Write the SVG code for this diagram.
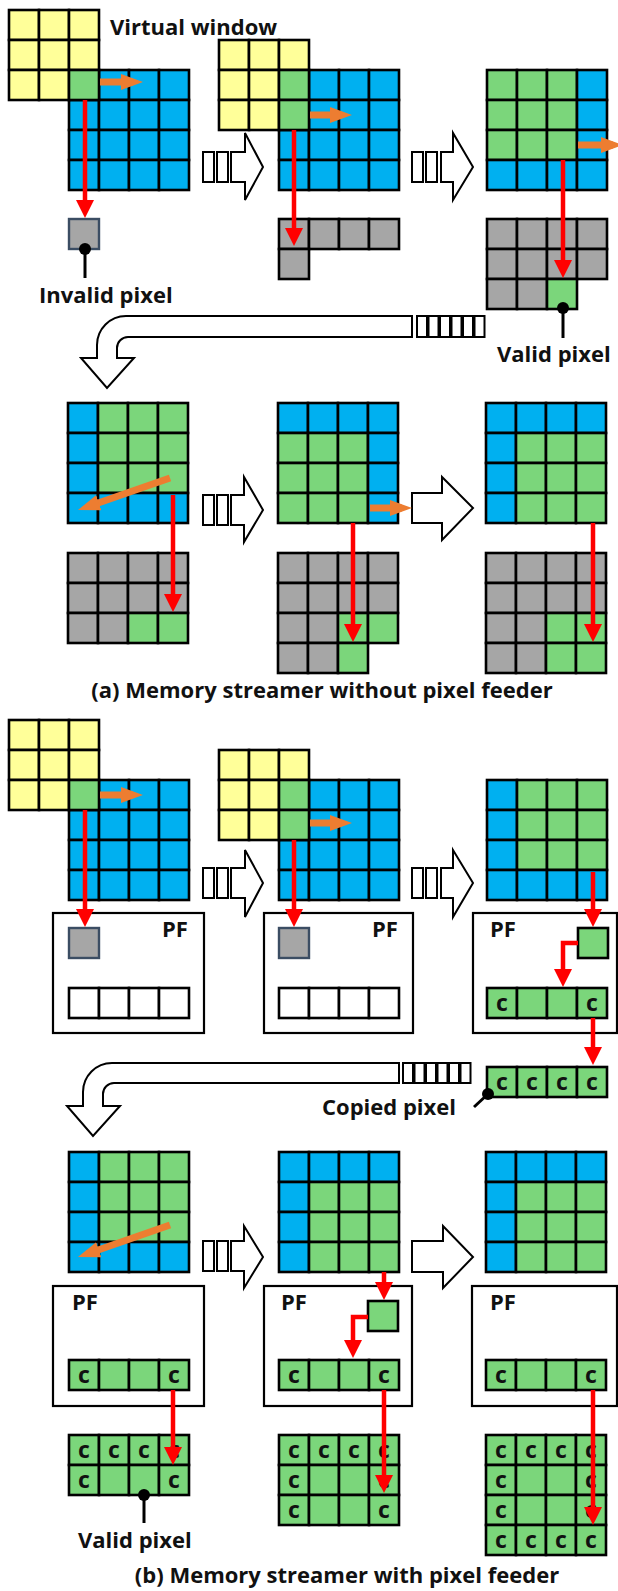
<svg xmlns="http://www.w3.org/2000/svg" width="618" height="1591" viewBox="0 0 618 1591">
<style>
  rect.Y{fill:#FFFF99;stroke:#000;stroke-width:2.6}
  rect.B{fill:#00B0F0;stroke:#000;stroke-width:2.6}
  rect.G{fill:#7BD67B;stroke:#000;stroke-width:2.6}
  rect.K{fill:#A6A6A6;stroke:#000;stroke-width:2.6}
  rect.W{fill:#fff;stroke:#000;stroke-width:2.6}
  rect.P{fill:#A6A6A6;stroke:#3B4D63;stroke-width:2.4}
  rect.box{fill:#fff;stroke:#000;stroke-width:2.2}
  text{font-family:"Open Sans","Liberation Sans",sans-serif;font-weight:700;fill:#111}
  .lbl{font-size:22px}
  .cap{font-size:22px;text-anchor:middle}
  .c{font-size:23px;text-anchor:middle}
  .red{stroke:#FF0000;stroke-width:4.5;fill:none;marker-end:url(#redHead)}
  .org{stroke:#ED7D31;stroke-width:7;fill:none;marker-end:url(#orgHead)}
  .blk{fill:#fff;stroke:#000;stroke-width:2;stroke-linejoin:miter}
  .lead{stroke:#000;stroke-width:3}
</style>
<defs>
  <marker id="redHead" markerUnits="userSpaceOnUse" markerWidth="18" markerHeight="18" refX="10" refY="9" orient="auto">
    <path d="M0,0 L18,9 L0,18 Z" fill="#FF0000"/>
  </marker>
  <marker id="orgHead" markerUnits="userSpaceOnUse" markerWidth="22" markerHeight="16" refX="12" refY="8" orient="auto">
    <path d="M0,0 L22,8 L0,16 Z" fill="#ED7D31"/>
  </marker>
</defs>
<rect width="618" height="1591" fill="#fff"/>

<!-- ===== (a) without pixel feeder ===== -->
<g id="a1">
  <rect class="B" x="69" y="70" width="30" height="30"/><rect class="B" x="99" y="70" width="30" height="30"/><rect class="B" x="129" y="70" width="30" height="30"/><rect class="B" x="159" y="70" width="30" height="30"/>
  <rect class="B" x="69" y="100" width="30" height="30"/><rect class="B" x="99" y="100" width="30" height="30"/><rect class="B" x="129" y="100" width="30" height="30"/><rect class="B" x="159" y="100" width="30" height="30"/>
  <rect class="B" x="69" y="130" width="30" height="30"/><rect class="B" x="99" y="130" width="30" height="30"/><rect class="B" x="129" y="130" width="30" height="30"/><rect class="B" x="159" y="130" width="30" height="30"/>
  <rect class="B" x="69" y="160" width="30" height="30"/><rect class="B" x="99" y="160" width="30" height="30"/><rect class="B" x="129" y="160" width="30" height="30"/><rect class="B" x="159" y="160" width="30" height="30"/>
  <rect class="Y" x="9" y="10" width="30" height="30"/><rect class="Y" x="39" y="10" width="30" height="30"/><rect class="Y" x="69" y="10" width="30" height="30"/>
  <rect class="Y" x="9" y="40" width="30" height="30"/><rect class="Y" x="39" y="40" width="30" height="30"/><rect class="Y" x="69" y="40" width="30" height="30"/>
  <rect class="Y" x="9" y="70" width="30" height="30"/><rect class="Y" x="39" y="70" width="30" height="30"/><rect class="G" x="69" y="70" width="30" height="30"/>
  <rect class="P" x="69" y="219" width="30" height="30"/>
  <text class="lbl" x="110" y="35">Virtual window</text>
  <text class="lbl" x="39" y="303">Invalid pixel</text>
</g>

<g id="a2">
  <rect class="B" x="279" y="70" width="30" height="30"/><rect class="B" x="309" y="70" width="30" height="30"/><rect class="B" x="339" y="70" width="30" height="30"/><rect class="B" x="369" y="70" width="30" height="30"/>
  <rect class="B" x="279" y="100" width="30" height="30"/><rect class="B" x="309" y="100" width="30" height="30"/><rect class="B" x="339" y="100" width="30" height="30"/><rect class="B" x="369" y="100" width="30" height="30"/>
  <rect class="B" x="279" y="130" width="30" height="30"/><rect class="B" x="309" y="130" width="30" height="30"/><rect class="B" x="339" y="130" width="30" height="30"/><rect class="B" x="369" y="130" width="30" height="30"/>
  <rect class="B" x="279" y="160" width="30" height="30"/><rect class="B" x="309" y="160" width="30" height="30"/><rect class="B" x="339" y="160" width="30" height="30"/><rect class="B" x="369" y="160" width="30" height="30"/>
  <rect class="Y" x="219" y="40" width="30" height="30"/><rect class="Y" x="249" y="40" width="30" height="30"/><rect class="Y" x="279" y="40" width="30" height="30"/>
  <rect class="Y" x="219" y="70" width="30" height="30"/><rect class="Y" x="249" y="70" width="30" height="30"/><rect class="G" x="279" y="70" width="30" height="30"/>
  <rect class="Y" x="219" y="100" width="30" height="30"/><rect class="Y" x="249" y="100" width="30" height="30"/><rect class="G" x="279" y="100" width="30" height="30"/>
  <rect class="K" x="279" y="219" width="30" height="30"/><rect class="K" x="309" y="219" width="30" height="30"/><rect class="K" x="339" y="219" width="30" height="30"/><rect class="K" x="369" y="219" width="30" height="30"/>
  <rect class="K" x="279" y="249" width="30" height="30"/>
</g>

<g id="a3">
  <rect class="G" x="487" y="70" width="30" height="30"/><rect class="G" x="517" y="70" width="30" height="30"/><rect class="G" x="547" y="70" width="30" height="30"/><rect class="B" x="577" y="70" width="30" height="30"/>
  <rect class="G" x="487" y="100" width="30" height="30"/><rect class="G" x="517" y="100" width="30" height="30"/><rect class="G" x="547" y="100" width="30" height="30"/><rect class="B" x="577" y="100" width="30" height="30"/>
  <rect class="G" x="487" y="130" width="30" height="30"/><rect class="G" x="517" y="130" width="30" height="30"/><rect class="G" x="547" y="130" width="30" height="30"/><rect class="B" x="577" y="130" width="30" height="30"/>
  <rect class="B" x="487" y="160" width="30" height="30"/><rect class="B" x="517" y="160" width="30" height="30"/><rect class="B" x="547" y="160" width="30" height="30"/><rect class="B" x="577" y="160" width="30" height="30"/>
  <rect class="K" x="487" y="219" width="30" height="30"/><rect class="K" x="517" y="219" width="30" height="30"/><rect class="K" x="547" y="219" width="30" height="30"/><rect class="K" x="577" y="219" width="30" height="30"/>
  <rect class="K" x="487" y="249" width="30" height="30"/><rect class="K" x="517" y="249" width="30" height="30"/><rect class="K" x="547" y="249" width="30" height="30"/><rect class="K" x="577" y="249" width="30" height="30"/>
  <rect class="K" x="487" y="279" width="30" height="30"/><rect class="K" x="517" y="279" width="30" height="30"/><rect class="G" x="547" y="279" width="30" height="30"/>
  <text class="lbl" x="497" y="362">Valid pixel</text>
</g>

<g id="a4">
  <rect class="B" x="68" y="403" width="30" height="30"/><rect class="G" x="98" y="403" width="30" height="30"/><rect class="G" x="128" y="403" width="30" height="30"/><rect class="G" x="158" y="403" width="30" height="30"/>
  <rect class="B" x="68" y="433" width="30" height="30"/><rect class="G" x="98" y="433" width="30" height="30"/><rect class="G" x="128" y="433" width="30" height="30"/><rect class="G" x="158" y="433" width="30" height="30"/>
  <rect class="B" x="68" y="463" width="30" height="30"/><rect class="G" x="98" y="463" width="30" height="30"/><rect class="G" x="128" y="463" width="30" height="30"/><rect class="G" x="158" y="463" width="30" height="30"/>
  <rect class="B" x="68" y="493" width="30" height="30"/><rect class="B" x="98" y="493" width="30" height="30"/><rect class="B" x="128" y="493" width="30" height="30"/><rect class="B" x="158" y="493" width="30" height="30"/>
  <rect class="K" x="68" y="553" width="30" height="30"/><rect class="K" x="98" y="553" width="30" height="30"/><rect class="K" x="128" y="553" width="30" height="30"/><rect class="K" x="158" y="553" width="30" height="30"/>
  <rect class="K" x="68" y="583" width="30" height="30"/><rect class="K" x="98" y="583" width="30" height="30"/><rect class="K" x="128" y="583" width="30" height="30"/><rect class="K" x="158" y="583" width="30" height="30"/>
  <rect class="K" x="68" y="613" width="30" height="30"/><rect class="K" x="98" y="613" width="30" height="30"/><rect class="G" x="128" y="613" width="30" height="30"/><rect class="G" x="158" y="613" width="30" height="30"/>
</g>

<g id="a5">
  <rect class="B" x="278" y="403" width="30" height="30"/><rect class="B" x="308" y="403" width="30" height="30"/><rect class="B" x="338" y="403" width="30" height="30"/><rect class="B" x="368" y="403" width="30" height="30"/>
  <rect class="G" x="278" y="433" width="30" height="30"/><rect class="G" x="308" y="433" width="30" height="30"/><rect class="G" x="338" y="433" width="30" height="30"/><rect class="B" x="368" y="433" width="30" height="30"/>
  <rect class="G" x="278" y="463" width="30" height="30"/><rect class="G" x="308" y="463" width="30" height="30"/><rect class="G" x="338" y="463" width="30" height="30"/><rect class="B" x="368" y="463" width="30" height="30"/>
  <rect class="G" x="278" y="493" width="30" height="30"/><rect class="G" x="308" y="493" width="30" height="30"/><rect class="G" x="338" y="493" width="30" height="30"/><rect class="B" x="368" y="493" width="30" height="30"/>
  <rect class="K" x="278" y="553" width="30" height="30"/><rect class="K" x="308" y="553" width="30" height="30"/><rect class="K" x="338" y="553" width="30" height="30"/><rect class="K" x="368" y="553" width="30" height="30"/>
  <rect class="K" x="278" y="583" width="30" height="30"/><rect class="K" x="308" y="583" width="30" height="30"/><rect class="K" x="338" y="583" width="30" height="30"/><rect class="K" x="368" y="583" width="30" height="30"/>
  <rect class="K" x="278" y="613" width="30" height="30"/><rect class="K" x="308" y="613" width="30" height="30"/><rect class="G" x="338" y="613" width="30" height="30"/><rect class="G" x="368" y="613" width="30" height="30"/>
  <rect class="K" x="278" y="643" width="30" height="30"/><rect class="K" x="308" y="643" width="30" height="30"/><rect class="G" x="338" y="643" width="30" height="30"/>
</g>

<g id="a6">
  <rect class="B" x="486" y="403" width="30" height="30"/><rect class="B" x="516" y="403" width="30" height="30"/><rect class="B" x="546" y="403" width="30" height="30"/><rect class="B" x="576" y="403" width="30" height="30"/>
  <rect class="B" x="486" y="433" width="30" height="30"/><rect class="G" x="516" y="433" width="30" height="30"/><rect class="G" x="546" y="433" width="30" height="30"/><rect class="G" x="576" y="433" width="30" height="30"/>
  <rect class="B" x="486" y="463" width="30" height="30"/><rect class="G" x="516" y="463" width="30" height="30"/><rect class="G" x="546" y="463" width="30" height="30"/><rect class="G" x="576" y="463" width="30" height="30"/>
  <rect class="B" x="486" y="493" width="30" height="30"/><rect class="G" x="516" y="493" width="30" height="30"/><rect class="G" x="546" y="493" width="30" height="30"/><rect class="G" x="576" y="493" width="30" height="30"/>
  <rect class="K" x="486" y="553" width="30" height="30"/><rect class="K" x="516" y="553" width="30" height="30"/><rect class="K" x="546" y="553" width="30" height="30"/><rect class="K" x="576" y="553" width="30" height="30"/>
  <rect class="K" x="486" y="583" width="30" height="30"/><rect class="K" x="516" y="583" width="30" height="30"/><rect class="K" x="546" y="583" width="30" height="30"/><rect class="K" x="576" y="583" width="30" height="30"/>
  <rect class="K" x="486" y="613" width="30" height="30"/><rect class="K" x="516" y="613" width="30" height="30"/><rect class="G" x="546" y="613" width="30" height="30"/><rect class="G" x="576" y="613" width="30" height="30"/>
  <rect class="K" x="486" y="643" width="30" height="30"/><rect class="K" x="516" y="643" width="30" height="30"/><rect class="G" x="546" y="643" width="30" height="30"/><rect class="G" x="576" y="643" width="30" height="30"/>
</g>

<text id="capA" class="cap" x="322" y="698">(a) Memory streamer without pixel feeder</text>

<!-- ===== (b) with pixel feeder ===== -->
<g id="b1">
  <rect class="B" x="69" y="780" width="30" height="30"/><rect class="B" x="99" y="780" width="30" height="30"/><rect class="B" x="129" y="780" width="30" height="30"/><rect class="B" x="159" y="780" width="30" height="30"/>
  <rect class="B" x="69" y="810" width="30" height="30"/><rect class="B" x="99" y="810" width="30" height="30"/><rect class="B" x="129" y="810" width="30" height="30"/><rect class="B" x="159" y="810" width="30" height="30"/>
  <rect class="B" x="69" y="840" width="30" height="30"/><rect class="B" x="99" y="840" width="30" height="30"/><rect class="B" x="129" y="840" width="30" height="30"/><rect class="B" x="159" y="840" width="30" height="30"/>
  <rect class="B" x="69" y="870" width="30" height="30"/><rect class="B" x="99" y="870" width="30" height="30"/><rect class="B" x="129" y="870" width="30" height="30"/><rect class="B" x="159" y="870" width="30" height="30"/>
  <rect class="Y" x="9" y="720" width="30" height="30"/><rect class="Y" x="39" y="720" width="30" height="30"/><rect class="Y" x="69" y="720" width="30" height="30"/>
  <rect class="Y" x="9" y="750" width="30" height="30"/><rect class="Y" x="39" y="750" width="30" height="30"/><rect class="Y" x="69" y="750" width="30" height="30"/>
  <rect class="Y" x="9" y="780" width="30" height="30"/><rect class="Y" x="39" y="780" width="30" height="30"/><rect class="G" x="69" y="780" width="30" height="30"/>
  <rect class="box" x="53" y="913" width="151" height="120"/>
  <text class="lbl" x="162" y="937">PF</text>
  <rect class="P" x="69" y="928" width="30" height="30"/>
  <rect class="W" x="69" y="988" width="30" height="30"/><rect class="W" x="99" y="988" width="30" height="30"/><rect class="W" x="129" y="988" width="30" height="30"/><rect class="W" x="159" y="988" width="30" height="30"/>
</g>

<g id="b2">
  <rect class="B" x="279" y="780" width="30" height="30"/><rect class="B" x="309" y="780" width="30" height="30"/><rect class="B" x="339" y="780" width="30" height="30"/><rect class="B" x="369" y="780" width="30" height="30"/>
  <rect class="B" x="279" y="810" width="30" height="30"/><rect class="B" x="309" y="810" width="30" height="30"/><rect class="B" x="339" y="810" width="30" height="30"/><rect class="B" x="369" y="810" width="30" height="30"/>
  <rect class="B" x="279" y="840" width="30" height="30"/><rect class="B" x="309" y="840" width="30" height="30"/><rect class="B" x="339" y="840" width="30" height="30"/><rect class="B" x="369" y="840" width="30" height="30"/>
  <rect class="B" x="279" y="870" width="30" height="30"/><rect class="B" x="309" y="870" width="30" height="30"/><rect class="B" x="339" y="870" width="30" height="30"/><rect class="B" x="369" y="870" width="30" height="30"/>
  <rect class="Y" x="219" y="750" width="30" height="30"/><rect class="Y" x="249" y="750" width="30" height="30"/><rect class="Y" x="279" y="750" width="30" height="30"/>
  <rect class="Y" x="219" y="780" width="30" height="30"/><rect class="Y" x="249" y="780" width="30" height="30"/><rect class="G" x="279" y="780" width="30" height="30"/>
  <rect class="Y" x="219" y="810" width="30" height="30"/><rect class="Y" x="249" y="810" width="30" height="30"/><rect class="G" x="279" y="810" width="30" height="30"/>
  <rect class="box" x="264" y="913" width="149" height="120"/>
  <text class="lbl" x="372" y="937">PF</text>
  <rect class="P" x="279" y="928" width="30" height="30"/>
  <rect class="W" x="279" y="988" width="30" height="30"/><rect class="W" x="309" y="988" width="30" height="30"/><rect class="W" x="339" y="988" width="30" height="30"/><rect class="W" x="369" y="988" width="30" height="30"/>
</g>

<g id="b3">
  <rect class="B" x="487" y="780" width="30" height="30"/><rect class="G" x="517" y="780" width="30" height="30"/><rect class="G" x="547" y="780" width="30" height="30"/><rect class="G" x="577" y="780" width="30" height="30"/>
  <rect class="B" x="487" y="810" width="30" height="30"/><rect class="G" x="517" y="810" width="30" height="30"/><rect class="G" x="547" y="810" width="30" height="30"/><rect class="G" x="577" y="810" width="30" height="30"/>
  <rect class="B" x="487" y="840" width="30" height="30"/><rect class="G" x="517" y="840" width="30" height="30"/><rect class="G" x="547" y="840" width="30" height="30"/><rect class="G" x="577" y="840" width="30" height="30"/>
  <rect class="B" x="487" y="870" width="30" height="30"/><rect class="B" x="517" y="870" width="30" height="30"/><rect class="B" x="547" y="870" width="30" height="30"/><rect class="B" x="577" y="870" width="30" height="30"/>
  <rect class="box" x="473" y="913" width="144" height="120"/>
  <text class="lbl" x="490" y="937">PF</text>
  <rect class="G" x="578" y="928" width="30" height="30"/>
  <rect class="G" x="487" y="988" width="30" height="30"/><rect class="G" x="517" y="988" width="30" height="30"/><rect class="G" x="547" y="988" width="30" height="30"/><rect class="G" x="577" y="988" width="30" height="30"/>
  <text class="c" x="502" y="1011">c</text><text class="c" x="592" y="1011">c</text>
  <rect class="G" x="487" y="1067" width="30" height="30"/><rect class="G" x="517" y="1067" width="30" height="30"/><rect class="G" x="547" y="1067" width="30" height="30"/><rect class="G" x="577" y="1067" width="30" height="30"/>
  <text class="c" x="502" y="1090">c</text><text class="c" x="532" y="1090">c</text><text class="c" x="562" y="1090">c</text><text class="c" x="592" y="1090">c</text>
  <text class="lbl" x="322" y="1115">Copied pixel</text>
</g>

<g id="b4">
  <rect class="B" x="69" y="1152" width="30" height="30"/><rect class="G" x="99" y="1152" width="30" height="30"/><rect class="G" x="129" y="1152" width="30" height="30"/><rect class="G" x="159" y="1152" width="30" height="30"/>
  <rect class="B" x="69" y="1182" width="30" height="30"/><rect class="G" x="99" y="1182" width="30" height="30"/><rect class="G" x="129" y="1182" width="30" height="30"/><rect class="G" x="159" y="1182" width="30" height="30"/>
  <rect class="B" x="69" y="1212" width="30" height="30"/><rect class="G" x="99" y="1212" width="30" height="30"/><rect class="G" x="129" y="1212" width="30" height="30"/><rect class="G" x="159" y="1212" width="30" height="30"/>
  <rect class="B" x="69" y="1242" width="30" height="30"/><rect class="B" x="99" y="1242" width="30" height="30"/><rect class="B" x="129" y="1242" width="30" height="30"/><rect class="B" x="159" y="1242" width="30" height="30"/>
  <rect class="box" x="53" y="1286" width="151" height="120"/>
  <text class="lbl" x="72" y="1310">PF</text>
  <rect class="G" x="69" y="1360" width="30" height="30"/><rect class="G" x="99" y="1360" width="30" height="30"/><rect class="G" x="129" y="1360" width="30" height="30"/><rect class="G" x="159" y="1360" width="30" height="30"/>
  <text class="c" x="84" y="1383">c</text><text class="c" x="174" y="1383">c</text>
  <rect class="G" x="69" y="1435" width="30" height="30"/><rect class="G" x="99" y="1435" width="30" height="30"/><rect class="G" x="129" y="1435" width="30" height="30"/><rect class="G" x="159" y="1435" width="30" height="30"/>
  <rect class="G" x="69" y="1465" width="30" height="30"/><rect class="G" x="99" y="1465" width="30" height="30"/><rect class="G" x="129" y="1465" width="30" height="30"/><rect class="G" x="159" y="1465" width="30" height="30"/>
  <text class="c" x="84" y="1458">c</text><text class="c" x="114" y="1458">c</text><text class="c" x="144" y="1458">c</text><text class="c" x="174" y="1458">c</text>
  <text class="c" x="84" y="1488">c</text><text class="c" x="174" y="1488">c</text>
  <text class="lbl" x="78" y="1548">Valid pixel</text>
</g>

<g id="b5">
  <rect class="B" x="279" y="1152" width="30" height="30"/><rect class="B" x="309" y="1152" width="30" height="30"/><rect class="B" x="339" y="1152" width="30" height="30"/><rect class="B" x="369" y="1152" width="30" height="30"/>
  <rect class="B" x="279" y="1182" width="30" height="30"/><rect class="G" x="309" y="1182" width="30" height="30"/><rect class="G" x="339" y="1182" width="30" height="30"/><rect class="G" x="369" y="1182" width="30" height="30"/>
  <rect class="B" x="279" y="1212" width="30" height="30"/><rect class="G" x="309" y="1212" width="30" height="30"/><rect class="G" x="339" y="1212" width="30" height="30"/><rect class="G" x="369" y="1212" width="30" height="30"/>
  <rect class="B" x="279" y="1242" width="30" height="30"/><rect class="G" x="309" y="1242" width="30" height="30"/><rect class="G" x="339" y="1242" width="30" height="30"/><rect class="G" x="369" y="1242" width="30" height="30"/>
  <rect class="box" x="264" y="1286" width="148" height="120"/>
  <text class="lbl" x="281" y="1310">PF</text>
  <rect class="G" x="368" y="1301" width="30" height="30"/>
  <rect class="G" x="279" y="1360" width="30" height="30"/><rect class="G" x="309" y="1360" width="30" height="30"/><rect class="G" x="339" y="1360" width="30" height="30"/><rect class="G" x="369" y="1360" width="30" height="30"/>
  <text class="c" x="294" y="1383">c</text><text class="c" x="384" y="1383">c</text>
  <rect class="G" x="279" y="1435" width="30" height="30"/><rect class="G" x="309" y="1435" width="30" height="30"/><rect class="G" x="339" y="1435" width="30" height="30"/><rect class="G" x="369" y="1435" width="30" height="30"/>
  <rect class="G" x="279" y="1465" width="30" height="30"/><rect class="G" x="309" y="1465" width="30" height="30"/><rect class="G" x="339" y="1465" width="30" height="30"/><rect class="G" x="369" y="1465" width="30" height="30"/>
  <rect class="G" x="279" y="1495" width="30" height="30"/><rect class="G" x="309" y="1495" width="30" height="30"/><rect class="G" x="339" y="1495" width="30" height="30"/><rect class="G" x="369" y="1495" width="30" height="30"/>
  <text class="c" x="294" y="1458">c</text><text class="c" x="324" y="1458">c</text><text class="c" x="354" y="1458">c</text><text class="c" x="384" y="1458">c</text>
  <text class="c" x="294" y="1488">c</text><text class="c" x="384" y="1488">c</text>
  <text class="c" x="294" y="1518">c</text><text class="c" x="384" y="1518">c</text>
</g>

<g id="b6">
  <rect class="B" x="486" y="1152" width="30" height="30"/><rect class="B" x="516" y="1152" width="30" height="30"/><rect class="B" x="546" y="1152" width="30" height="30"/><rect class="B" x="576" y="1152" width="30" height="30"/>
  <rect class="B" x="486" y="1182" width="30" height="30"/><rect class="G" x="516" y="1182" width="30" height="30"/><rect class="G" x="546" y="1182" width="30" height="30"/><rect class="G" x="576" y="1182" width="30" height="30"/>
  <rect class="B" x="486" y="1212" width="30" height="30"/><rect class="G" x="516" y="1212" width="30" height="30"/><rect class="G" x="546" y="1212" width="30" height="30"/><rect class="G" x="576" y="1212" width="30" height="30"/>
  <rect class="B" x="486" y="1242" width="30" height="30"/><rect class="G" x="516" y="1242" width="30" height="30"/><rect class="G" x="546" y="1242" width="30" height="30"/><rect class="G" x="576" y="1242" width="30" height="30"/>
  <rect class="box" x="472" y="1286" width="145" height="120"/>
  <text class="lbl" x="490" y="1310">PF</text>
  <rect class="G" x="486" y="1360" width="30" height="30"/><rect class="G" x="516" y="1360" width="30" height="30"/><rect class="G" x="546" y="1360" width="30" height="30"/><rect class="G" x="576" y="1360" width="30" height="30"/>
  <text class="c" x="501" y="1383">c</text><text class="c" x="591" y="1383">c</text>
  <rect class="G" x="486" y="1435" width="30" height="30"/><rect class="G" x="516" y="1435" width="30" height="30"/><rect class="G" x="546" y="1435" width="30" height="30"/><rect class="G" x="576" y="1435" width="30" height="30"/>
  <rect class="G" x="486" y="1465" width="30" height="30"/><rect class="G" x="516" y="1465" width="30" height="30"/><rect class="G" x="546" y="1465" width="30" height="30"/><rect class="G" x="576" y="1465" width="30" height="30"/>
  <rect class="G" x="486" y="1495" width="30" height="30"/><rect class="G" x="516" y="1495" width="30" height="30"/><rect class="G" x="546" y="1495" width="30" height="30"/><rect class="G" x="576" y="1495" width="30" height="30"/>
  <rect class="G" x="486" y="1525" width="30" height="30"/><rect class="G" x="516" y="1525" width="30" height="30"/><rect class="G" x="546" y="1525" width="30" height="30"/><rect class="G" x="576" y="1525" width="30" height="30"/>
  <text class="c" x="501" y="1458">c</text><text class="c" x="531" y="1458">c</text><text class="c" x="561" y="1458">c</text><text class="c" x="591" y="1458">c</text>
  <text class="c" x="501" y="1488">c</text><text class="c" x="591" y="1488">c</text>
  <text class="c" x="501" y="1518">c</text><text class="c" x="591" y="1518">c</text>
  <text class="c" x="501" y="1548">c</text><text class="c" x="531" y="1548">c</text><text class="c" x="561" y="1548">c</text><text class="c" x="591" y="1548">c</text>
</g>

<text id="capB" class="cap" x="347" y="1583">(b) Memory streamer with pixel feeder</text>

<!-- ===== connectors ===== -->
<g id="connectors">
  <!-- step arrows -->
  <rect class="blk" x="203" y="152" width="11" height="30"/><rect class="blk" x="217" y="152" width="11" height="30"/>
  <path class="blk" d="M231,152 H245 V133 L263,167 L245,200 V182 H231 Z"/>
  <rect class="blk" x="412" y="152" width="11" height="30"/><rect class="blk" x="426" y="152" width="11" height="30"/>
  <path class="blk" d="M441,152 H453 V133 L473,167 L453,200 V182 H441 Z"/>
  <rect class="blk" x="203" y="495" width="11" height="30"/><rect class="blk" x="217" y="495" width="11" height="30"/>
  <path class="blk" d="M231,495 H244 V477 L263,510 L244,542 V525 H231 Z"/>
  <path class="blk" d="M412,493 H442 V477 L473,508 L442,540 V523 H412 Z"/>
  <rect class="blk" x="203" y="868" width="11" height="30"/><rect class="blk" x="217" y="868" width="11" height="30"/>
  <path class="blk" d="M231,868 H245 V850 L263,883 L245,917 V898 H231 Z"/>
  <rect class="blk" x="412" y="868" width="11" height="30"/><rect class="blk" x="426" y="868" width="11" height="30"/>
  <path class="blk" d="M441,868 H453 V850 L473,883 L453,917 V898 H441 Z"/>
  <rect class="blk" x="203" y="1241" width="11" height="30"/><rect class="blk" x="217" y="1241" width="11" height="30"/>
  <path class="blk" d="M231,1241 H244 V1226 L263,1257 L244,1288 V1271 H231 Z"/>
  <path class="blk" d="M412,1241 H443 V1226 L473,1257 L443,1288 V1272 H412 Z"/>

  <!-- wrap-around arrows -->
  <path class="blk" d="M412,316 H126 A29,29 0 0 0 97,345 V358 H81 L107,388 L134,358 H117 V348 A11,11 0 0 1 128,337 H412 Z"/>
  <rect class="blk" x="417" y="316" width="10" height="21"/><rect class="blk" x="428.5" y="316" width="10" height="21"/><rect class="blk" x="440" y="316" width="10" height="21"/>
  <rect class="blk" x="451.5" y="316" width="10" height="21"/><rect class="blk" x="463" y="316" width="10" height="21"/><rect class="blk" x="474.5" y="316" width="10" height="21"/>
  <path class="blk" d="M399,1063 H112 A29,29 0 0 0 83,1092 V1106 H67 L93,1136 L120,1106 H103 V1094 A11,11 0 0 1 114,1083 H399 Z"/>
  <rect class="blk" x="403" y="1063" width="10" height="20"/><rect class="blk" x="414.5" y="1063" width="10" height="20"/><rect class="blk" x="426" y="1063" width="10" height="20"/>
  <rect class="blk" x="437.5" y="1063" width="10" height="20"/><rect class="blk" x="449" y="1063" width="10" height="20"/><rect class="blk" x="460.5" y="1063" width="10" height="20"/>

  <!-- window shifts -->
  <line class="org" x1="100" y1="82" x2="133" y2="82"/>
  <line class="org" x1="310" y1="115" x2="342" y2="115"/>
  <line class="org" x1="578" y1="145" x2="613" y2="145"/>
  <line class="org" x1="170" y1="478" x2="87.4" y2="506.7"/>
  <line class="org" x1="370" y1="508" x2="402" y2="508"/>
  <line class="org" x1="100" y1="795" x2="133" y2="795"/>
  <line class="org" x1="310" y1="823" x2="342" y2="823"/>
  <line class="org" x1="170" y1="1225" x2="87.4" y2="1253.7"/>

  <!-- pixel output paths -->
  <line class="red" x1="85" y1="100" x2="85" y2="210"/>
  <line class="red" x1="294" y1="130" x2="294" y2="238"/>
  <line class="red" x1="563" y1="160" x2="563" y2="270"/>
  <line class="red" x1="173" y1="495" x2="173" y2="604"/>
  <line class="red" x1="353" y1="523" x2="353" y2="634"/>
  <line class="red" x1="593" y1="523" x2="593" y2="634"/>
  <line class="red" x1="85" y1="810" x2="85" y2="919"/>
  <line class="red" x1="294" y1="840" x2="294" y2="919"/>
  <line class="red" x1="593" y1="872" x2="593" y2="919"/>
  <path class="red" d="M578,943 H563 V979"/>
  <line class="red" x1="593" y1="1018" x2="593" y2="1057"/>
  <line class="red" x1="173" y1="1390" x2="173" y2="1457"/>
  <line class="red" x1="384" y1="1272" x2="384" y2="1292"/>
  <path class="red" d="M368,1317 H353 V1350"/>
  <line class="red" x1="384" y1="1390" x2="384" y2="1485"/>
  <line class="red" x1="593" y1="1390" x2="593" y2="1517"/>

  <!-- label pointers -->
  <line class="lead" x1="85" y1="249" x2="85" y2="278"/><circle cx="85" cy="249" r="6"/>
  <line class="lead" x1="563" y1="308" x2="563" y2="338"/><circle cx="563" cy="308" r="6"/>
  <line class="lead" x1="488" y1="1094" x2="474" y2="1107"/><circle cx="488" cy="1094" r="6"/>
  <line class="lead" x1="144" y1="1495" x2="144" y2="1523"/><circle cx="144" cy="1495" r="6"/>
</g>
</svg>
